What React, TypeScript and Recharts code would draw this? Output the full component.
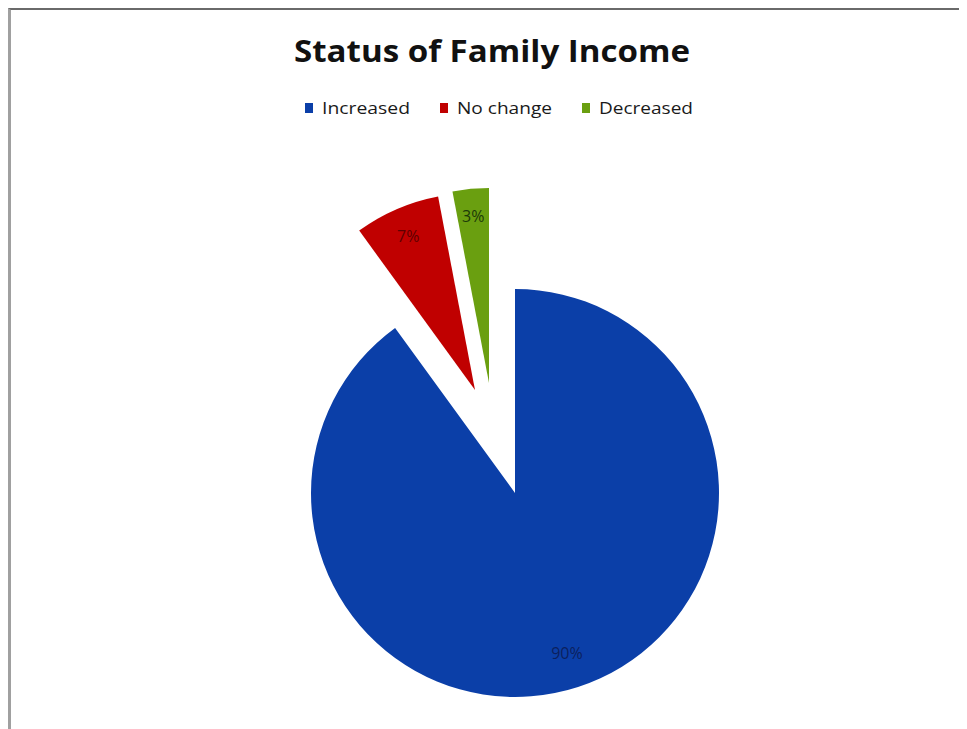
import { PieChart, Pie, Cell, Legend } from "recharts";

// chart data
const categories = ["Increased", "No change", "Decreased"];
const shares = [90, 7, 3];
const colors = ["#0b3fa8", "#c00000", "#6a9f10"];
const labelColors = ["#0c1f5e", "#5e0000", "#1c3a08"];

const pieData = categories.map((name, i) => ({ name, value: shares[i] }));

// layout
const W = 955;
const H = 719;
const CX = 504;
const CY = 483;
const explode = [
  { dx: 0, dy: 0, r: 204 },
  { dx: -40, dy: -103, r: 197 },
  { dx: -26, dy: -110, r: 195 },
];
const LABEL_R = 168;
const legendX = [294, 429, 571];
const legendTextW = [88, 95, 94];
const RAD = Math.PI / 180;

const FONT = "'Open Sans', 'DejaVu Sans', sans-serif";

function makeLabel(k: number) {
  return (props: any) => {
    if (props.index !== k) return null;
    const { cx, cy, midAngle, percent } = props;
    const x = cx + LABEL_R * Math.cos(-midAngle * RAD);
    const y = cy + LABEL_R * Math.sin(-midAngle * RAD);
    return (
      <text
        x={x}
        y={y}
        textAnchor="middle"
        dominantBaseline="central"
        fill={labelColors[k]}
        fontSize={16}
        fontFamily={FONT}
      >
        {`${Math.round(percent * 100)}%`}
      </text>
    );
  };
}

const LegendContent = () => (
  <svg width={W} height={40} style={{ display: "block", overflow: "visible" }}>
    {categories.map((c, i) => (
      <g key={c}>
        <rect x={legendX[i]} y={9} width={8} height={10} fill={colors[i]} />
        <text
          x={legendX[i] + 17}
          y={20}
          fontSize={17}
          fontFamily={FONT}
          fill="#1a1a1a"
          textLength={legendTextW[i]}
          lengthAdjust="spacingAndGlyphs"
        >
          {c}
        </text>
      </g>
    ))}
  </svg>
);

export default function App() {
  return (
    <div
      style={{
        position: "relative",
        width: W,
        height: H,
        borderTop: "2px solid #6a6a6a",
        borderLeft: "3px solid #a0a0a0",
        background: "#fff",
      }}
    >
      <svg
        width={W}
        height={70}
        style={{ position: "absolute", left: 0, top: 0, zIndex: 2 }}
      >
        <text
          x={481}
          y={52}
          textAnchor="middle"
          fontSize={31}
          fontWeight="bold"
          fontFamily={FONT}
          fill="#111"
          textLength={396}
          lengthAdjust="spacingAndGlyphs"
        >
          Status of Family Income
        </text>
      </svg>
      <PieChart
        width={W}
        height={H}
        margin={{ top: 0, right: 0, bottom: 0, left: 0 }}
      >
        {explode.map((e, k) => (
          <Pie
            key={k}
            data={pieData}
            dataKey="value"
            nameKey="name"
            cx={CX + e.dx}
            cy={CY + e.dy}
            outerRadius={e.r}
            startAngle={90}
            endAngle={-270}
            stroke="none"
            labelLine={false}
            label={makeLabel(k)}
            legendType="none"
            isAnimationActive={false}
          >
            {pieData.map((d, i) => (
              <Cell key={d.name} fill={i === k ? colors[i] : "transparent"} />
            ))}
          </Pie>
        ))}
        <Legend
          content={<LegendContent />}
          wrapperStyle={{ position: "absolute", left: 0, top: 84, width: W }}
        />
      </PieChart>
    </div>
  );
}
